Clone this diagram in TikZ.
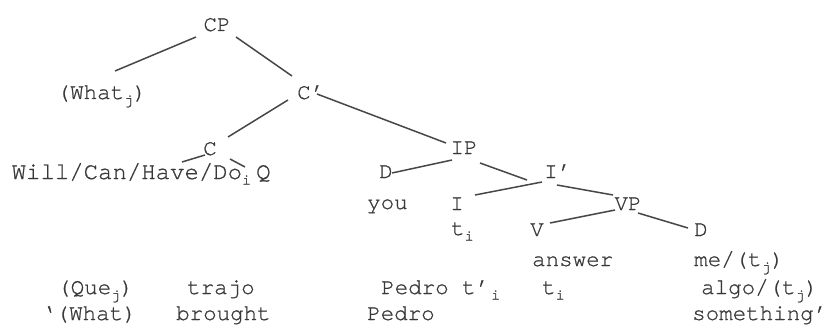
\documentclass[tikz,border=0pt]{standalone}
\usepackage{fontspec}
\newfontfamily\cour[Extension=.otf,FakeBold=0.8]{texgyrecursor-regular}
\newcommand\sbs[1]{\raisebox{-5.5pt}{\fontsize{15}{15}\selectfont #1}}
\tikzset{
  lab/.style={font=\cour\fontsize{22.5}{26}\selectfont, inner sep=0pt, text=black!78},
  biglab/.style={font=\cour\fontsize{24}{28}\selectfont, inner sep=0pt, text=black!78},
  edge/.style={line width=1.5pt, draw=black!72}
}
\begin{document}
\begin{tikzpicture}[x=1pt,y=-1pt]
\useasboundingbox[fill=white] (0,0) rectangle (828,329);
% tree labels
\node[lab, anchor=base] (CP) at (217,31) {CP};
\node[lab, anchor=base west] (Wh) at (56.5,99) {(What\sbs{j})};
\node[lab, anchor=base west] (Cb) at (297,99) {C’};
\node[lab, anchor=base] (C) at (210,155) {C};
\node[biglab, anchor=base west] (Will) at (11.5,179) {Will/Can/Have/Do\sbs{i}};
\node[biglab, anchor=base west] (Q) at (256,179) {Q};
\node[lab, anchor=base] (IP) at (464,154) {IP};
\node[lab, anchor=base] (D1) at (386,178) {D};
\node[lab, anchor=base west] (Ib) at (544,178) {I’};
\node[lab, anchor=base west] (you) at (367,209) {you};
\node[lab, anchor=base] (I) at (457,210) {I};
\node[lab, anchor=base west] (tI) at (451,235) {t\sbs{i}};
\node[lab, anchor=base] (VP) at (628,210) {VP};
\node[lab, anchor=base] (V) at (537,236) {V};
\node[lab, anchor=base] (D2) at (701,236) {D};
\node[lab, anchor=base west] (ans) at (532,266) {answer};
\node[lab, anchor=base west] (me) at (694,266) {me/(t\sbs{j})};
% gloss lines
\node[lab, anchor=base west] (que) at (57,294) {(Que\sbs{j})};
\node[lab, anchor=base west] (trajo) at (187,294) {trajo};
\node[lab, anchor=base west] (pedroA) at (381,294) {Pedro t’\kern2pt\sbs{i}};
\node[lab, anchor=base west] (tV) at (542,294) {t\sbs{i}};
\node[lab, anchor=base west] (algo) at (701,294) {algo/(t\sbs{j})};
\node[lab, anchor=base west] (whatB) at (42,320) {‘(What)};
\node[lab, anchor=base west] (brought) at (176,320) {brought};
\node[lab, anchor=base west] (pedroB) at (367,320) {Pedro};
\node[lab, anchor=base west] (some) at (692,320) {something’};
% connectors
\draw[edge] ([shift={(-21,6)}]CP.base) -- ([shift={(58.5,-28)}]Wh.base west);
\draw[edge] ([shift={(19,6)}]CP.base) -- ([shift={(-5,-23)}]Cb.base west);
\draw[edge] ([shift={(-9,1)}]Cb.base west) -- ([shift={(18,-18)}]C.base);
\draw[edge] ([shift={(20,-5)}]Cb.base west) -- ([shift={(-18,-11)}]IP.base);
\draw[edge] ([shift={(-5,0)}]C.base) -- ([shift={(170.5,-17)}]Will.base west);
\draw[edge] ([shift={(20,4)}]C.base) -- ([shift={(-11,-12)}]Q.base west);
\draw[edge] ([shift={(-12,6)}]IP.base) -- ([shift={(6,-5)}]D1.base);
\draw[edge] ([shift={(16,9)}]IP.base) -- ([shift={(-17,2)}]Ib.base west);
\draw[edge] ([shift={(-2,4)}]Ib.base west) -- ([shift={(18,-15)}]I.base);
\draw[edge] ([shift={(13,7)}]Ib.base west) -- ([shift={(-15,-15)}]VP.base);
\draw[edge] ([shift={(-13,0)}]VP.base) -- ([shift={(13,-13)}]V.base);
\draw[edge] ([shift={(10,3)}]VP.base) -- ([shift={(-13,-8)}]D2.base);
\end{tikzpicture}
\end{document}
